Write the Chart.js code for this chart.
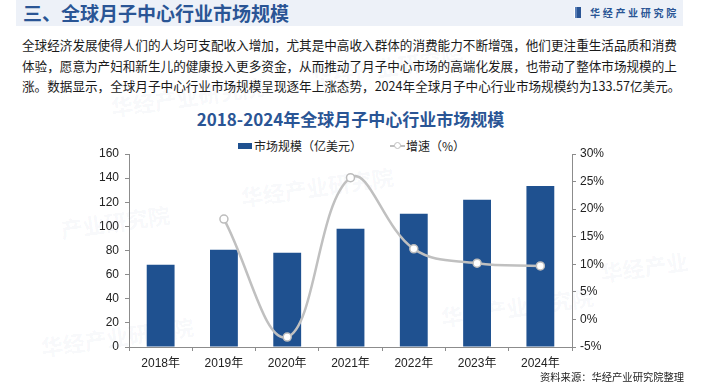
<!DOCTYPE html>
<html lang="zh">
<head>
<meta charset="UTF-8">
<title>全球月子中心行业市场规模</title>
<script src="https://cdn.jsdelivr.net/npm/chart.js"></script>
<style>
    body { margin: 0; width: 701px; height: 386px; background: #fff; position: relative; overflow: hidden; font-family: "Noto Sans CJK SC", "Liberation Sans", sans-serif; color: #222; }
    .band { position: absolute; left: 16px; top: 0; width: 667px; height: 26px; background: #edf1f8; }
    .band h1 { position: absolute; left: 7px; top: 0; margin: 0; font-size: 19px; line-height: 26px; font-weight: bold; color: #2a5595; }
    .logo { position: absolute; left: 574px; top: 6px; height: 14px; font-size: 10px; line-height: 14px; font-weight: bold; color: #2a5595; letter-spacing: 2.7px; }
    .logo i { display: inline-block; width: 6px; height: 11px; background: #2a5595; vertical-align: -1px; margin-right: 9px; border-left: 1px solid #fff; box-shadow: inset 2px 0 0 #5b80b8; }
    .para { position: absolute; left: 22px; font-size: 12.6px; line-height: 20px; color: #1a1a1a; white-space: nowrap; }
    .title { position: absolute; left: 0; width: 701px; top: 106px; text-align: center; font-size: 17px; font-weight: bold; color: #2a5595; }
    .legend { position: absolute; top: 138px; font-size: 12px; line-height: 16px; color: #222; white-space: nowrap; }
    .legend .sq { display: inline-block; width: 14px; height: 6px; background: #1f5190; vertical-align: 2px; margin-right: 2px; }
    .legend .ln { display: inline-block; position: relative; width: 15px; height: 2px; background: #bfbfbf; vertical-align: 4px; margin-right: 1px; }
    .legend .ln:after { content: ""; position: absolute; left: 4px; top: -3px; width: 5px; height: 5px; border: 1px solid #bfbfbf; border-radius: 50%; background: #fff; }
    .wm { position: absolute; font-size: 22px; font-weight: bold; color: rgba(60, 90, 140, 0.05); transform: rotate(-8deg); white-space: nowrap; }
    .wrap { position: absolute; left: 0; top: 140px; width: 701px; height: 246px; }
    .src { position: absolute; left: 540px; top: 369px; font-size: 10.3px; color: #222; white-space: nowrap; }
</style>
</head>
<body>
    <div class="wm" style="left:310px;top:50px;">华经产业研究院</div>
    <div class="wm" style="left:110px;top:80px;">华经产业研究院</div>
    <div class="wm" style="left:240px;top:170px;">华经产业研究院</div>
    <div class="wm" style="left:60px;top:205px;">产业研究院</div>
    <div class="wm" style="left:440px;top:290px;">华经产业研究院</div>
    <div class="wm" style="left:40px;top:320px;">华经产业研究院</div>
    <div class="wm" style="left:600px;top:250px;">华经产业</div>

    <div class="band">
        <h1>三、全球月子中心行业市场规模</h1>
    </div>
    <div class="logo"><i></i>华经产业研究院</div>

    <div class="para" style="top:35px;">全球经济发展使得人们的人均可支配收入增加，尤其是中高收入群体的消费能力不断增强，他们更注重生活品质和消费</div>
    <div class="para" style="top:56px;">体验，愿意为产妇和新生儿的健康投入更多资金，从而推动了月子中心市场的高端化发展，也带动了整体市场规模的上</div>
    <div class="para" style="top:76px;">涨。数据显示，全球月子中心行业市场规模呈现逐年上涨态势，2024年全球月子中心行业市场规模约为133.57亿美元。</div>

    <div class="title">2018-2024年全球月子中心行业市场规模</div>

    <div class="legend" style="left:238px;"><span class="sq"></span>市场规模（亿美元）</div>
    <div class="legend" style="left:390px;"><span class="ln"></span>增速（%）</div>

    <div class="wrap"><canvas id="chart"></canvas></div>

    <div class="src">资料来源：华经产业研究院整理</div>

<script>
    // 数据
    const years = ['2018年', '2019年', '2020年', '2021年', '2022年', '2023年', '2024年'];
    const marketSize = [68.2, 80.7, 78.2, 98.1, 110.5, 122.1, 133.57];
    const growthRate = [null, 18.2, -3.2, 25.7, 12.8, 10.2, 9.7];
    const leftTicks = [0, 160, 20];
    const rightTicks = [-5, 30, 5];

    const tickFont = { family: '"Liberation Sans", "Noto Sans CJK SC", sans-serif', size: 12 };
    const axisColor = '#8c8c8c';

    new Chart(document.getElementById('chart'), {
        data: {
            labels: years,
            datasets: [{
                type: 'line',
                label: '增速（%）',
                data: growthRate,
                yAxisID: 'y1',
                borderColor: '#c0c0c0',
                borderWidth: 2.5,
                tension: 0.4,
                pointRadius: 4,
                pointBackgroundColor: '#fff',
                pointBorderColor: '#bdbdbd',
                pointBorderWidth: 1.5,
                order: 0
            }, {
                type: 'bar',
                label: '市场规模（亿美元）',
                data: marketSize,
                yAxisID: 'y',
                backgroundColor: '#1f5190',
                categoryPercentage: 1,
                barPercentage: 0.44,
                order: 1
            }]
        },
        options: {
            responsive: true,
            maintainAspectRatio: false,
            animation: false,
            layout: { padding: { top: 14, left: 0, right: 0, bottom: 0 } },
            plugins: {
                legend: { display: false },
                tooltip: { enabled: false }
            },
            scales: {
                x: {
                    grid: { display: true, drawOnChartArea: false, offset: true, tickLength: 4, color: axisColor },
                    border: { color: axisColor },
                    ticks: { font: tickFont, color: '#222', padding: 5, maxRotation: 0 },
                    afterFit: (s) => { s.height = 39; }
                },
                y: {
                    position: 'left',
                    min: leftTicks[0],
                    max: leftTicks[1],
                    ticks: { stepSize: leftTicks[2], font: tickFont, color: '#222', padding: 6 },
                    grid: { drawOnChartArea: false, tickLength: 4, color: axisColor },
                    border: { color: axisColor },
                    afterFit: (s) => { s.width = 129; }
                },
                y1: {
                    position: 'right',
                    min: rightTicks[0],
                    max: rightTicks[1],
                    ticks: { stepSize: rightTicks[2], font: tickFont, color: '#222', padding: 4, callback: (v) => v + '%' },
                    grid: { drawOnChartArea: false, tickLength: 4, color: axisColor },
                    border: { color: axisColor },
                    afterFit: (s) => { s.width = 129; }
                }
            }
        }
    });
</script>
</body>
</html>
